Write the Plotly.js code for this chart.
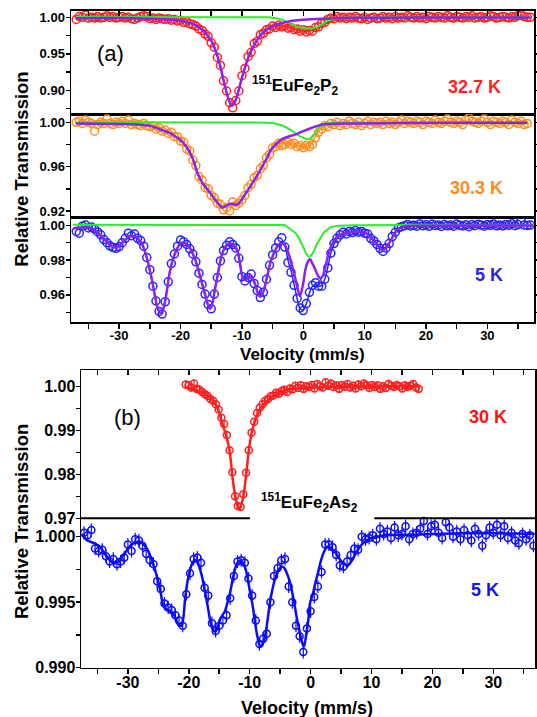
<!DOCTYPE html>
<html><head><meta charset="utf-8">
<script src="https://cdn.plot.ly/plotly-3.0.1.min.js"></script>
<style>html,body{margin:0;padding:0;background:#fff}#chart{width:537px;height:717px}</style>
</head><body><div id="chart"></div>
<script>
// ---------- Panel (a): 151EuFe2P2 ----------
// measured channels, velocity start / step (mm/s)
const a327Start = -37, a327Step = 0.5;
const t327 = [
0.997,1.001,1.000,1.003,0.999,1.000,0.999,1.001,0.999,1.000,
1.002,1.000,1.001,0.999,1.000,1.001,0.999,1.000,0.998,0.997,
0.999,1.001,1.002,1.001,0.998,0.999,0.997,0.999,0.998,0.997,
0.998,0.996,0.997,0.995,0.996,0.993,0.994,0.991,0.990,0.988,
0.984,0.982,0.977,0.974,0.965,0.959,0.945,0.934,0.913,0.899,
0.883,0.876,0.886,0.899,0.920,0.930,0.946,0.952,0.964,0.967,
0.976,0.978,0.983,0.984,0.988,0.986,0.989,0.987,0.988,0.985,
0.986,0.983,0.984,0.981,0.983,0.980,0.982,0.981,0.986,0.987,
0.992,0.993,0.997,0.999,0.998,1.001,0.999,1.000,0.998,1.000,
0.999,1.001,0.999,0.998,1.000,0.997,0.999,1.000,0.998,0.999,
1.001,0.999,1.000,0.998,1.001,0.999,1.000,0.999,1.002,1.000,
0.999,1.001,0.999,1.000,0.998,1.001,1.000,0.999,1.001,1.000,
0.999,1.002,1.000,0.999,1.001,1.000,0.999,1.001,1.000,1.002,
0.999,1.000,1.001,0.999,1.000,1.002,1.001,0.999,1.000,1.001,
1.000,0.999,1.001,1.000,1.002,1.003,1.001,1.000,1.000];
const fitTot327X = [-37,-30,-25,-22,-20,-19,-18,-17,-16,-15,-14.5,-14,-13.5,-13,-12.5,-12,-11.7,-11.4,-11,-10.5,-10,-9.5,-9,-8.5,-8,-7,-6,-5,-4,-3,-2,-1,0,0.9,2,3,4,5,6,10,15,20,30,37];
const fitTot327Y = [0.9993,0.999,0.998,0.997,0.9955,0.9935,0.991,0.986,0.979,0.968,0.959,0.947,0.932,0.914,0.897,0.884,0.879,0.880,0.887,0.901,0.917,0.931,0.944,0.954,0.962,0.975,0.983,0.987,0.989,0.988,0.986,0.983,0.9815,0.9815,0.9835,0.988,0.9935,0.9968,0.9983,0.9993,0.9995,0.9996,0.9998,0.9998];
const sub1_327X = [-37,-30,-25,-22,-20,-19,-18,-17,-16,-15,-14.5,-14,-13.5,-13,-12.5,-12,-11.7,-11.4,-11,-10.5,-10,-9.5,-9,-8.5,-8,-7,-6,-5,-4,-3,-2,0,2,4,6,10,15,20,30,37];
const sub1_327Y = [0.9988,0.999,0.998,0.997,0.9955,0.9935,0.991,0.986,0.979,0.968,0.959,0.947,0.932,0.914,0.897,0.884,0.879,0.880,0.887,0.901,0.917,0.931,0.944,0.954,0.962,0.975,0.983,0.988,0.991,0.993,0.995,0.9965,0.9975,0.9985,0.999,0.9993,0.9995,0.9996,0.9998,0.9998];
const sub2_327X = [-37,-10,-6,-5,-4,-3,-2,-1,0,0.9,2,3,4,5,6,8,37];
const sub2_327Y = [1.0005,1.0002,1.0,0.9995,0.998,0.995,0.991,0.987,0.985,0.9845,0.986,0.990,0.995,0.998,0.9993,0.9998,1.0];

const a303Start = -37, a303Step = 0.5;
const t303 = [
1.000,1.001,0.999,1.002,1.000,0.999,0.992,0.998,1.000,0.999,
1.003,0.999,0.998,1.000,0.999,1.001,0.999,1.002,0.998,0.999,
0.998,0.997,0.999,0.997,0.996,0.997,0.994,0.995,0.992,0.993,
0.990,0.991,0.987,0.987,0.983,0.982,0.976,0.974,0.966,0.961,
0.951,0.948,0.941,0.940,0.934,0.932,0.927,0.926,0.921,0.923,
0.920,0.928,0.925,0.927,0.930,0.934,0.941,0.944,0.950,0.952,
0.958,0.961,0.968,0.971,0.977,0.978,0.981,0.979,0.980,0.982,
0.980,0.981,0.978,0.979,0.977,0.979,0.978,0.980,0.986,0.991,
0.994,0.997,0.996,0.999,0.998,1.000,0.997,0.999,0.998,1.001,
0.999,0.998,1.000,0.997,0.999,1.001,0.998,1.000,0.999,1.000,
0.998,1.001,0.999,1.000,0.998,1.000,1.002,0.999,1.001,1.000,
0.999,1.001,1.000,0.998,1.001,1.000,0.999,1.002,1.000,0.999,
1.001,1.003,1.000,0.999,1.001,1.000,0.998,1.002,1.004,1.001,
1.000,0.999,1.001,1.003,1.000,0.998,1.001,1.000,0.999,1.001,
1.000,0.998,1.002,1.000,0.999,1.001,0.998,0.999];
const sub1_303X = [-37,-30,-27,-25,-23.8,-22.5,-21.6,-20.8,-20,-19.2,-18.4,-17.8,-17.3,-16.7,-16.2,-15.4,-14.6,-13.9,-13.2,-12.6,-12,-11.4,-10.8,-10.2,-9.5,-9,-8.2,-7.4,-7,-6.4,-5.8,-5.3,-4.5,-3.7,-2.5,-1.5,0,1.2,2.8,4.5,6.7,15,25,36.5];
const sub1_303Y = [0.999,0.9985,0.998,0.997,0.9946,0.992,0.990,0.987,0.984,0.979,0.972,0.964,0.955,0.948,0.9434,0.938,0.932,0.927,0.9232,0.9245,0.9263,0.9262,0.9255,0.929,0.935,0.939,0.946,0.953,0.957,0.963,0.969,0.975,0.980,0.984,0.987,0.9886,0.992,0.9946,0.9976,0.9985,0.999,0.9993,0.9995,0.9995];
const sub2_303X = [-37,-10,-5,-4,-3,-2,-1,0,0.9,1.5,2,2.5,3,3.5,4.5,10,36.5];
const sub2_303Y = [1.0,0.9998,0.9993,0.998,0.996,0.993,0.989,0.986,0.9847,0.987,0.991,0.995,0.997,0.9985,0.9995,0.9995,0.9992];
const fitTot303X = [-37,-30,-27,-25,-23.8,-22.5,-21.6,-20.8,-20,-19.2,-18.4,-17.8,-17.3,-16.7,-16.2,-15.4,-14.6,-13.9,-13.2,-12.6,-12,-11.4,-10.8,-10.2,-9.5,-9,-8.2,-7.4,-7,-6.4,-5.8,-5.3,-4.5,-4,-3,-2,-1,0,0.9,1.5,2,2.5,3,3.5,4.5,6.7,15,25,36.5];
const fitTot303Y = [0.999,0.9985,0.998,0.997,0.9946,0.992,0.990,0.987,0.984,0.979,0.972,0.964,0.955,0.948,0.9434,0.938,0.932,0.927,0.9232,0.9245,0.9263,0.9262,0.9255,0.929,0.935,0.939,0.946,0.953,0.957,0.963,0.969,0.9745,0.9785,0.9805,0.9815,0.981,0.979,0.978,0.978,0.982,0.9875,0.992,0.9947,0.9965,0.998,0.9985,0.9988,0.999,0.9988];

const a5Start = -37, a5Step = 0.5;
const t5a = [
0.9965,0.9955,0.9995,1.0002,0.9985,0.9990,0.9978,0.9962,0.9945,0.9918,
0.9900,0.9882,0.9872,0.9868,0.9878,0.9900,0.9925,0.9955,0.9940,0.9950,
0.9925,0.9912,0.9880,0.9815,0.9745,0.9650,0.9565,0.9505,0.9490,0.9560,
0.9675,0.9780,0.9835,0.9880,0.9915,0.9905,0.9890,0.9865,0.9835,0.9790,
0.9725,0.9660,0.9605,0.9545,0.9520,0.9605,0.9700,0.9795,0.9855,0.9885,
0.9905,0.9890,0.9870,0.9810,0.9705,0.9680,0.9700,0.9720,0.9665,0.9625,
0.9585,0.9615,0.9690,0.9770,0.9830,0.9870,0.9905,0.9928,0.9875,0.9785,
0.9730,0.9655,0.9580,0.9525,0.9510,0.9550,0.9615,0.9655,0.9670,0.9650,
0.9650,0.9690,0.9755,0.9840,0.9895,0.9925,0.9945,0.9960,0.9950,0.9965,
0.9958,0.9970,0.9960,0.9965,0.9955,0.9950,0.9925,0.9910,0.9890,0.9868,
0.9850,0.9870,0.9895,0.9935,0.9960,0.9985,0.9992,0.9998,1.0005,0.9996,
1.0000,0.9995,1.0008,0.9998,1.0003,0.9994,1.0006,0.9999,1.0002,0.9993,
1.0005,0.9997,1.0001,0.9995,1.0007,1.0000,0.9996,1.0003,0.9992,1.0004,
0.9998,1.0006,1.0001,0.9995,1.0004,1.0000,1.0008,0.9997,1.0002,0.9996,
1.0005,1.0000,1.0009,0.9998,1.0004,1.0025,1.0002,0.9999,1.0001];
const sub1_5aX = [-37.4,-36.5,-35.2,-34.5,-33.6,-32.8,-32.0,-31.3,-30.6,-30.0,
-29.5,-28.9,-28.4,-27.8,-27.2,-26.5,-26.0,-25.4,-25.0,-24.6,
-24.2,-23.8,-23.3,-22.9,-22.6,-22.2,-21.9,-21.5,-21.1,-20.5,
-20.0,-19.4,-18.9,-18.3,-17.8,-17.3,-16.8,-16.3,-15.9,-15.5,
-15.2,-14.9,-14.6,-14.3,-14.0,-13.6,-13.2,-12.6,-11.9,-11.3,
-10.8,-10.4,-10.0,-9.7,-9.4,-9.0,-8.6,-8.2,-7.8,-7.4,
-7.0,-6.5,-5.9,-5.4,-4.8,-4.2,-3.7,-3.1,-2.6,-2.0,
-1.5,-1.0,-0.55,-0.1,0.4,0.8,1.1,1.5,2.0,2.4,
2.8,3.2,3.6,4.0,4.5,5.0,5.5,6.3,7.2,8.3,
9.3,10.2,10.9,11.5,12.1,12.6,13.0,13.5,14.0,14.6,
15.3,16.0,17.0,20,30,37.5];
const sub1_5aY = [0.9983,0.9986,0.9989,0.998,0.9964,0.993,0.9906,0.988,0.9874,0.988,
0.9897,0.992,0.9935,0.9938,0.993,0.9906,0.987,0.980,0.974,0.9676,
0.960,0.9533,0.9494,0.951,0.955,0.963,0.9705,0.977,0.982,0.987,
0.9897,0.990,0.9887,0.986,0.982,0.977,0.9705,0.964,0.959,0.954,
0.952,0.954,0.959,0.965,0.9705,0.978,0.9839,0.988,0.9897,0.988,
0.9858,0.980,0.9715,0.969,0.9686,0.970,0.9715,0.969,0.9657,0.961,
0.959,0.962,0.9705,0.978,0.9839,0.988,0.9897,0.989,0.9858,0.979,
0.9724,0.965,0.9594,0.965,0.9753,0.9795,0.9805,0.978,0.9743,0.971,
0.9695,0.971,0.9762,0.982,0.9877,0.991,0.9935,0.995,0.9958,0.9962,
0.9964,0.9955,0.9935,0.991,0.9887,0.9865,0.9858,0.987,0.9897,0.9935,
0.9973,0.999,0.9996,0.9998,0.9999,0.9999];
const sub2_5aX = [-37.5,-5,-3,-2.6,-1.8,-1.0,-0.5,0.1,0.5,0.9,1.3,1.7,2.2,2.8,3.3,3.9,4.5,5.5,8,37.5];
const sub2_5aY = [1.0003,1.0002,1.0,0.999,0.997,0.9944,0.991,0.9868,0.9835,0.982,0.9828,0.985,0.989,0.9925,0.9955,0.9973,0.999,0.9996,1.0,1.0];
const fitTot5aTailX = [-2.5,-2,-1.5,-1,-0.5,0,0.5,1,1.5,2,2.5,3,3.5,4,4.5,5,5.5,6.3,7.2,8.3,9.3,10.2,10.9,11.5,12.1,12.6,13.0,13.5,14.0,14.6,15.3,16.0,17.0,20,30,37.5];
const fitTot5aTailY = [0.980,0.974,0.966,0.958,0.952,0.9515,0.955,0.961,0.965,0.966,0.965,0.9655,0.969,0.976,0.984,0.989,0.9925,0.995,0.9958,0.9962,0.9964,0.9955,0.9935,0.991,0.9887,0.9865,0.9858,0.987,0.9897,0.9935,0.9973,0.999,0.9996,0.9998,0.9999,0.9999];
const fitTot5aX = sub1_5aX.slice(0, 68).concat(fitTot5aTailX);
const fitTot5aY = sub1_5aY.slice(0, 68).concat(fitTot5aTailY);

// ---------- Panel (b): 151EuFe2As2 ----------
const b30Start = -20.5, b30Step = 0.45, b30Err = 0.0009;
const b30 = [
1.0005,1.0003,0.9998,1.0007,0.9995,0.9993,0.9988,0.9983,0.9979,0.9972,
0.9968,0.9960,0.9948,0.9929,0.9915,0.9890,0.9855,0.9805,0.9750,0.9728,
0.9726,0.9755,0.9804,0.9855,0.9895,0.9920,0.9940,0.9952,0.9960,0.9968,
0.9972,0.9978,0.9980,0.9986,0.9984,0.9990,0.9993,0.9988,0.9996,0.9994,
1.0002,0.9997,1.0003,0.9995,1.0001,0.9999,1.0004,0.9996,1.0006,1.0001,
0.9998,1.0010,1.0002,1.0007,0.9999,1.0003,0.9995,1.0004,1.0000,1.0006,
0.9998,1.0002,0.9996,1.0005,1.0001,1.0007,1.0003,0.9997,1.0004,0.9999,
1.0003,0.9995,1.0001,0.9997,1.0006,1.0002,0.9999,1.0004,1.0001,0.9996,
1.0003,0.9999,1.0002,1.0006,0.9998,0.9995];
const fitB30X = [-20.5,-19,-18,-17,-16.5,-16,-15.4,-14.9,-14.4,-13.8,-13.3,-12.7,-12.2,-11.8,-11.2,-10.6,-10.1,-9.4,-8.6,-8.3,-7.5,-6.6,-5,-3.2,0,5,10,17.75];
const fitB30Y = [0.9998,0.9993,0.9988,0.998,0.9975,0.9968,0.9955,0.9936,0.9912,0.9885,0.9853,0.978,0.974,0.9722,0.974,0.9796,0.986,0.991,0.994,0.9948,0.9962,0.9975,0.9988,0.9995,0.9998,1.0,1.0001,1.0001];

const b5Start = -37.2, b5Step = 0.6, b5Err = 0.0005;
const b5 = [
1.0003,1.0001,1.0005,0.9991,0.9989,0.9990,0.9985,0.9981,0.9983,0.9979,
0.9981,0.9984,0.9994,0.9989,0.9998,0.9997,0.9993,0.9987,0.9982,0.9979,
0.9966,0.9960,0.9949,0.9946,0.9944,0.9940,0.9936,0.9932,0.9956,0.9972,
0.9983,0.9984,0.9980,0.9961,0.9955,0.9934,0.9928,0.9932,0.9936,0.9940,
0.9953,0.9970,0.9981,0.9982,0.9980,0.9968,0.9955,0.9936,0.9918,0.9922,
0.9926,0.9950,0.9970,0.9976,0.9982,0.9983,0.9962,0.9950,0.9932,0.9924,
0.9912,0.9930,0.9943,0.9954,0.9962,0.9973,0.9994,0.9994,0.9992,0.9986,
0.9978,0.9977,0.9981,0.9986,0.9991,0.9990,1.0000,0.9998,0.9999,1.0001,
0.9998,1.0006,1.0002,1.0004,0.9999,1.0007,1.0001,1.0002,1.0008,0.9998,
1.0002,1.0003,1.0006,1.0012,1.0002,1.0008,1.0009,1.0003,0.9999,1.0011,
1.0007,1.0000,1.0004,0.9998,1.0005,1.0001,0.9997,1.0006,1.0002,0.9993,
1.0001,1.0007,1.0003,1.0009,1.0001,1.0008,0.9999,1.0003,0.9997,0.9995,
1.0002,0.9998,1.0001,0.9993];
const fitB5X = [-37.6,-36.8,-35.5,-34.6,-33.8,-33.0,-32.4,-31.9,-31.2,-30.5,
-29.8,-29.1,-28.5,-28.0,-27.4,-26.9,-26.3,-25.8,-25.2,-24.7,
-24.2,-23.8,-23.4,-23.0,-22.6,-22.1,-21.7,-21.2,-20.9,-20.6,
-20.2,-19.8,-19.4,-19.0,-18.6,-18.2,-17.8,-17.4,-16.9,-16.5,
-16.1,-15.7,-15.3,-14.9,-14.5,-14.1,-13.7,-13.3,-12.7,-12.3,
-11.9,-11.4,-10.8,-10.4,-10.0,-9.5,-9.1,-8.7,-8.3,-7.9,
-7.5,-7.1,-6.7,-6.3,-5.9,-5.4,-4.8,-4.3,-3.9,-3.5,
-3.1,-2.7,-2.3,-1.9,-1.5,-1.1,-0.7,-0.4,-0.1,0.4,
0.8,1.2,1.6,2.1,2.5,2.9,3.4,4.0,4.5,5.1,
5.6,6.0,6.5,7.0,7.5,8.1,8.9,9.7,10.8,12,
16.3,20,25,30,36.8];
const fitB5Y = [1.0002,0.99975,0.9995,0.99924,0.9987,0.99822,0.9980,0.99796,0.9983,0.99873,
0.9992,0.99949,0.9996,0.99962,0.9994,0.99911,0.9985,0.99784,0.9969,0.99593,
0.99478,0.9945,0.9944,0.9943,0.99415,0.9937,0.99326,0.9932,0.9938,0.99529,
0.9966,0.99746,0.9980,0.99822,0.9981,0.99758,0.9969,0.99593,0.9947,0.99364,
0.9930,0.99275,0.9930,0.99364,0.9940,0.99427,0.9949,0.99555,0.99695,0.9977,
0.99809,0.9981,0.99771,0.9970,0.99593,0.9947,0.99338,0.9923,0.99165,0.9918,
0.99237,0.9935,0.99491,0.9959,0.99669,0.9973,0.99771,0.9976,0.99720,0.9967,
0.99593,0.9950,0.99389,0.9930,0.99211,0.99160,0.99262,0.9935,0.99491,0.99567,
0.9965,0.99720,0.9980,0.99873,0.9991,0.99924,0.9991,0.99885,0.9985,0.99809,
0.9979,0.99776,0.9980,0.99835,0.9988,0.99924,0.9996,0.99985,0.99995,1.0001,
1.00015,1.0002,1.00025,1.00025,1.00022];

// ---------- tick labels ----------
const velTicks = [-30,-20,-10,0,10,20,30];
const velTickText = ['-30','-20','-10','0','10','20','30'];
const yTicks327 = [0.90,0.95,1.00], yText327 = ['0.90','0.95','1.00'];
const yTicks303 = [0.92,0.96,1.00], yText303 = ['0.92','0.96','1.00'];
const yTicks5a = [0.96,0.98,1.00], yText5a = ['0.96','0.98','1.00'];
const yTicksB30 = [0.97,0.98,0.99,1.00], yTextB30 = ['0.97','0.98','0.99','1.00'];
const yTicksB5 = [0.990,0.995,1.000], yTextB5 = ['0.990','0.995','1.000'];

// ---------- styling ----------
const FONT = 'Liberation Sans, Arial, sans-serif';
const RED = '#ff1f1f', ORANGE = '#ff8c1a', BLUE_A = '#2424ff', PURPLE = '#8a22f0', GREEN = '#2aee2a', BLUE_B = '#0a0aff';

function pts(y, x0, dx, color, xa, ya, size, err) {
  const t = {type:'scatter', mode:'markers', y:y, x0:x0, dx:dx, xaxis:xa, yaxis:ya, cliponaxis:false,
    marker:{symbol:'circle-open', size:size, color:color, line:{width:1.5, color:color}}, hoverinfo:'skip'};
  if (err !== undefined) t.error_y = {type:'constant', value:err, color:color, thickness:1.2, width:0};
  return t;
}
function fit(x, y, color, w, xa, ya) {
  return {type:'scatter', mode:'lines', x:x, y:y, xaxis:xa, yaxis:ya,
    line:{color:color, width:w, shape:'spline', smoothing:1}, hoverinfo:'skip'};
}

const traces = [
  pts(t327, a327Start, a327Step, RED, 'x', 'y', 8),
  fit(fitTot327X, fitTot327Y, RED, 1.5, 'x', 'y'),
  fit(sub2_327X, sub2_327Y, GREEN, 2, 'x', 'y'),
  fit(sub1_327X, sub1_327Y, PURPLE, 2.5, 'x', 'y'),

  pts(t303, a303Start, a303Step, ORANGE, 'x2', 'y2', 8),
  fit(fitTot303X, fitTot303Y, ORANGE, 1.5, 'x2', 'y2'),
  fit(sub2_303X, sub2_303Y, GREEN, 2, 'x2', 'y2'),
  fit(sub1_303X, sub1_303Y, PURPLE, 2.5, 'x2', 'y2'),

  pts(t5a, a5Start, a5Step, BLUE_A, 'x3', 'y3', 8),
  fit(fitTot5aX, fitTot5aY, BLUE_A, 1.5, 'x3', 'y3'),
  fit(sub2_5aX, sub2_5aY, GREEN, 2, 'x3', 'y3'),
  fit(sub1_5aX, sub1_5aY, PURPLE, 2.5, 'x3', 'y3'),

  pts(b30, b30Start, b30Step, RED, 'x4', 'y4', 7, b30Err),
  fit(fitB30X, fitB30Y, RED, 2.5, 'x4', 'y4'),
  pts(b5, b5Start, b5Step, BLUE_B, 'x5', 'y5', 7, b5Err),
  fit(fitB5X, fitB5Y, BLUE_B, 2.5, 'x5', 'y5')
];

const W = 537, H = 717;
const px = v => v / W, py = v => 1 - v / H;
const base = {showline:true, linecolor:'#000', linewidth:1.5, ticklen:5, tickwidth:1.5,
  tickcolor:'#000', showgrid:false, zeroline:false, tickmode:'array'};
function yax(dom, range, anchor, tv, tt, minorDt, fs, standoff) {
  return Object.assign({}, base, {domain:dom, range:range, anchor:anchor, tickvals:tv, ticktext:tt,
    mirror:'ticks', ticks:'outside', ticklen:4, ticklabelstandoff:standoff,
    tickfont:{family:FONT, size:fs, color:'#000', weight:'bold'},
    minor:{tickmode:'linear', tick0:0, dtick:minorDt, ticks:'outside', ticklen:4, tickwidth:1.5, tickcolor:'#000'}});
}
// kind: 'top' (inside ticks on top), 'none' (frame only), 'bottom' (outside ticks + labels)
function xax(dom, range, anchor, kind, mirror, fs, standoff) {
  const ticks = kind === 'top' ? 'inside' : (kind === 'bottom' ? 'outside' : '');
  return Object.assign({}, base, {domain:dom, range:range, anchor:anchor,
    side: kind === 'top' ? 'top' : 'bottom', mirror:mirror, ticklabelstandoff:standoff || 0,
    ticks:ticks, tickvals:velTicks, ticktext:velTickText, showticklabels: kind === 'bottom',
    tickfont:{family:FONT, size:fs, color:'#000', weight:'bold'},
    minor:{tickmode:'linear', tick0:0, dtick:5, ticks:ticks, ticklen:5, tickwidth:1.5, tickcolor:'#000'}});
}

const rangeXA = [-37.85, 37.6], rangeXB = [-37.7, 36.85];
const domXA = [px(71), px(534)], domXB = [px(81), px(535)];

const ann = (x, y, text, size, color, extra) => Object.assign({xref:'paper', yref:'paper', x:px(x), y:py(y),
  xanchor:'center', yanchor:'middle', text:text, showarrow:false, font:{family:FONT, size:size, color:color}}, extra || {});

const layout = {
  width:W, height:H, autosize:false, margin:{l:0,r:0,t:0,b:0},
  paper_bgcolor:'#fff', plot_bgcolor:'rgba(0,0,0,0)', showlegend:false,
  font:{family:FONT, color:'#000'},
  xaxis:  xax(domXA, rangeXA, 'y',  'top',    true, 13),
  xaxis2: xax(domXA, rangeXA, 'y2', 'none',   true, 13),
  xaxis3: xax(domXA, rangeXA, 'y3', 'bottom', true, 13, -4),
  xaxis4: xax(domXB, rangeXB, 'y4', 'top',    false, 16),
  xaxis5: xax(domXB, rangeXB, 'y5', 'bottom', false, 16, -5),
  yaxis:  yax([py(114), py(10.5)], [0.8675, 1.0093], 'x', yTicks327, yText327, 0.025, 13, -2),
  yaxis2: yax([py(217.5), py(114)], [0.9141, 1.0075], 'x2', yTicks303, yText303, 0.02, 13, -2),
  yaxis3: yax([py(322), py(217.5)], [0.94443, 1.00448], 'x3', yTicks5a, yText5a, 0.01, 13, -2),
  yaxis4: yax([py(518.3), py(370)], [0.97, 1.0038], 'x4', yTicksB30, yTextB30, 0.005, 16, -3),
  yaxis5: yax([py(667.7), py(518.3)], [0.990, 1.0014], 'x5', yTicksB5, yTextB5, 0.0025, 16, -3),
  shapes: [
    {type:'line', xref:'x4 domain', yref:'y4 domain', x0:0, x1:0.372, y0:0, y1:0, line:{color:'#000', width:2}},
    {type:'line', xref:'x4 domain', yref:'y4 domain', x0:0.646, x1:1, y0:0, y1:0, line:{color:'#000', width:2}}
  ],
  annotations: [
    ann(20.7, 169, '<b>Relative Transmission</b>', 18.5, '#000', {textangle:-90}),
    ann(21, 522, '<b>Relative Transmission</b>', 18.5, '#000', {textangle:-90}),
    ann(302.5, 354, '<b>Velocity (mm/s)</b>', 17, '#000'),
    ann(307, 708, '<b>Velocity (mm/s)</b>', 18, '#000'),
    ann(110, 54, '(a)', 22, '#000'),
    ann(127, 417, '(b)', 22, '#000'),
    ann(295, 86, '<b><sup>151</sup>EuFe<sub>2</sub>P<sub>2</sub></b>', 17, '#000'),
    ann(310, 502, '<b><sup>151</sup>EuFe<sub>2</sub>As<sub>2</sub></b>', 17, '#000'),
    ann(474, 87, '<b>32.7 K</b>', 18, RED),
    ann(476, 188, '<b>30.3 K</b>', 18, ORANGE),
    ann(488.5, 275, '<b>5 K</b>', 18, '#2626e0'),
    ann(488, 417, '<b>30 K</b>', 18, '#ff1010'),
    ann(485, 590, '<b>5 K</b>', 18, '#1414e6')
  ]
};

Plotly.newPlot('chart', traces, layout, {displayModeBar:false, staticPlot:true});
</script></body></html>
